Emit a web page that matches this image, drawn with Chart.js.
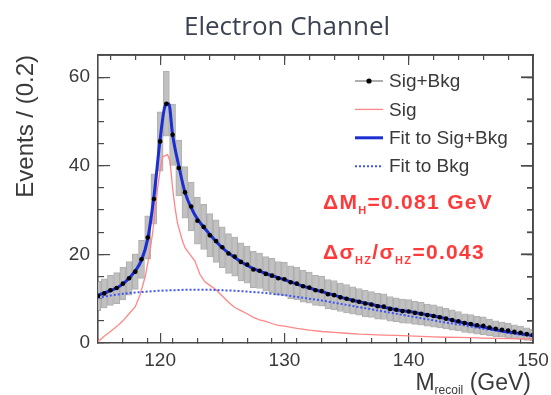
<!DOCTYPE html>
<html>
<head>
<meta charset="utf-8">
<script src="https://cdn.jsdelivr.net/npm/chart.js@4.4.1/dist/chart.umd.min.js"></script>
<style>
  html, body { margin: 0; padding: 0; background: #fff; }
</style>
</head>
<body>
<canvas id="chart" width="551" height="395"></canvas>
<script>
// measured Sig+Bkg events per 0.2 GeV bin, with their error bars
const massX = [
  115, 115.5, 116, 116.5, 117, 117.5, 118, 118.5, 119, 119.5,
  120, 120.5, 121, 121.5, 122, 122.5, 123, 123.5, 124, 124.5,
  125, 125.5, 126, 126.5, 127, 127.5, 128, 128.5, 129, 129.5,
  130, 130.5, 131, 131.5, 132, 132.5, 133, 133.5, 134, 134.5,
  135, 135.5, 136, 136.5, 137, 137.5, 138, 138.5, 139, 139.5,
  140, 140.5, 141, 141.5, 142, 142.5, 143, 143.5, 144, 144.5,
  145, 145.5, 146, 146.5, 147, 147.5, 148, 148.5, 149, 149.5, 150,
];
const sigBkgEvents = [
  10.6, 11.2, 11.9, 12.4, 13.4, 14.6, 16.1, 18.9, 23.8, 32.5,
  45.5, 54.0, 47.0, 39.5, 34.0, 30.8, 27.6, 26.2, 24.3, 23.0,
  21.6, 20.2, 19.5, 18.3, 17.7, 16.6, 16.3, 15.6, 15.2, 14.6,
  14.4, 13.7, 13.4, 12.8, 12.5, 11.9, 11.7, 11.0, 10.8, 10.3,
  10.0, 9.6, 9.3, 8.9, 8.7, 8.3, 8.2, 7.7, 7.5, 7.2,
  7.1, 6.8, 6.6, 6.3, 6.1, 5.8, 5.5, 5.2, 4.9, 4.5,
  4.3, 4.0, 3.9, 3.5, 3.2, 3.0, 2.8, 2.5, 2.3, 2.0, 1.8,
];
const sigBkgErrors = [
  3.3, 3.3, 3.4, 3.5, 3.7, 3.8, 4.0, 4.3, 4.9, 5.7,
  6.7, 7.3, 6.9, 6.3, 5.8, 5.5, 5.3, 5.1, 4.9, 4.8,
  4.6, 4.5, 4.4, 4.3, 4.2, 4.1, 4.0, 3.9, 3.9, 3.8,
  3.8, 3.7, 3.7, 3.6, 3.5, 3.4, 3.4, 3.3, 3.3, 3.2,
  3.2, 3.1, 3.0, 3.0, 2.9, 2.9, 2.9, 2.8, 2.7, 2.7,
  2.7, 2.6, 2.6, 2.5, 2.5, 2.4, 2.3, 2.3, 2.2, 2.1,
  2.1, 2.0, 2.0, 1.9, 1.8, 1.7, 1.7, 1.6, 1.5, 1.4, 1.3,
];

// signal only histogram
const sigX = [
  115, 115.5, 116, 116.5, 117, 117.5, 118, 118.4, 118.8, 119,
  119.2, 119.4, 119.6, 119.8, 120, 120.2, 120.4, 120.6, 120.8, 121,
  121.2, 121.4, 121.6, 121.8, 122, 122.4, 122.8, 123.2, 123.6, 124,
  124.5, 125, 125.5, 126, 126.5, 127, 127.5, 128, 128.5, 129,
  129.5, 130, 131, 132, 133, 134, 135, 136, 137, 138,
  139, 140, 141, 142, 143, 144, 145, 146, 147, 148, 149, 150,
];
const sigEvents = [
  0.3, 1.5, 2.6, 3.7, 5.0, 6.6, 8.2, 11, 15, 18,
  21, 25, 30, 35, 39, 42, 42.3, 42.5, 41, 35,
  30.5, 27, 25, 23, 21.5, 20, 18.5, 15.5, 13.8, 13,
  12, 10.6, 9.2, 8.0, 7.3, 6.6, 5.8, 5.2, 4.9, 4.4,
  4.0, 3.8, 3.3, 2.9, 2.6, 2.4, 2.2, 2.0, 1.9, 1.8,
  1.7, 1.6, 1.5, 1.4, 1.3, 1.25, 1.2, 1.1, 1.05, 1.0, 0.95, 0.9,
];

// fitted curves
const fitX = [
  115, 116, 117, 118, 118.5, 119, 119.5, 120, 120.4, 120.7,
  121, 121.5, 122, 122.5, 123, 124, 125, 126, 127, 128,
  129, 130, 131, 132, 133, 134, 135, 136, 137, 138,
  139, 140, 141, 142, 143, 144, 145, 146, 147, 148, 149, 150,
];
const fitSigBkg = [
  10.8, 11.8, 13.3, 16.3, 18.7, 23.5, 33, 46, 53.5, 54,
  47, 40, 34, 30.5, 28, 24.5, 21.5, 19.3, 17.5, 16.2,
  15.2, 14.3, 13.3, 12.4, 11.6, 10.8, 10.0, 9.3, 8.7, 8.1,
  7.5, 7.1, 6.6, 6.1, 5.5, 4.8, 4.2, 3.6, 3.0, 2.5, 2.1, 1.7,
];
const bkgX = [
  115, 116, 117, 118, 119, 120, 121, 122, 123, 124,
  125, 126, 127, 128, 129, 130, 131, 132, 133, 134,
  135, 136, 137, 138, 139, 140, 141, 142, 143, 144,
  145, 146, 147, 148, 149, 150,
];
const fitBkg = [
  10.2, 10.7, 11.1, 11.4, 11.6, 11.8, 11.9, 12.0, 12.0, 12.0,
  11.9, 11.8, 11.6, 11.4, 11.1, 10.8, 10.4, 10.0, 9.6, 9.1,
  8.6, 8.1, 7.6, 7.1, 6.6, 6.1, 5.6, 5.1, 4.6, 4.2,
  3.7, 3.2, 2.8, 2.3, 1.9, 1.5,
];

const xTickLabels = [120, 130, 140, 150];
const yTickLabels = [0, 20, 40, 60];

const BLUE = "#1b2ed2";
const BLUE_DOT = "#3f55f7";
const PINK = "rgb(255,135,135)";
const RED = "#ff3a3a";
const TEXT = "#3a3a3a";
const FRAME = "#4a4a4a";
const TICK_FONT = { family: "'Liberation Sans', Arial, sans-serif", size: 19 };

function pairs(xs, ys) {
  return xs.map((x, i) => ({ x: x, y: ys[i] }));
}

// a ROOT style axis: ticks pointing into the plot, optional frame line
function rootAxis(opts) {
  const horizontal = opts.position === "top" || opts.position === "bottom";
  return {
    type: "linear",
    position: opts.position,
    min: opts.min,
    max: opts.max,
    offset: false,
    weight: opts.weight || 0,
    grid: {
      display: true,
      drawOnChartArea: false,
      drawTicks: true,
      tickLength: -opts.tick,
      color: FRAME,
      lineWidth: 1.2,
    },
    border: { display: !!opts.border, color: FRAME, width: 1.6 },
    ticks: {
      display: !!opts.labels,
      stepSize: opts.step,
      includeBounds: false,
      autoSkip: false,
      maxRotation: 0,
      padding: opts.padding || 0,
      color: TEXT,
      font: TICK_FONT,
      callback: (v) => (opts.labels && opts.labels.includes(v) ? String(v) : ""),
    },
    afterFit: (scale) => {
      // keep the "150" label overhang from shrinking the frame
      if (horizontal) {
        scale.paddingLeft = 0;
        scale.paddingRight = 0;
        scale.height = opts.size;
      } else {
        scale.width = opts.size;
      }
    },
  };
}

// legend and labels drawn the ROOT way
const rootStyle = {
  id: "rootStyle",
  afterDraw(chart) {
    const ctx = chart.ctx;
    const a = chart.chartArea;
    const ys = chart.scales.y;
    ctx.save();

    // right edge of the frame with its inward ticks
    ctx.fillStyle = FRAME;
    ctx.fillRect(a.right - 0.8, a.top - 0.8, 1.6, a.bottom - a.top + 1.6);
    ctx.fillRect(a.left - 0.8, a.top - 0.8, a.right - a.left + 1.6, 1.6);
    ys.ticks.forEach((t) => {
      const v = t.value;
      if (v <= ys.min || v >= ys.max) return;
      const py = Math.round(ys.getPixelForValue(v));
      const len = v % 20 === 0 ? 12 : 6;
      ctx.fillRect(a.right - len, py - 0.6, len, 1.2);
    });

    // legend
    const ds = chart.data.datasets;
    const entries = [ds[1], ds[2], ds[4], ds[3]];
    const lx0 = 355;
    const lx1 = 383;
    let ly = 81;
    ctx.font = "19px 'Liberation Sans', Arial, sans-serif";
    ctx.textBaseline = "middle";
    ctx.textAlign = "left";
    entries.forEach((d) => {
      ctx.setLineDash(d.borderDash || []);
      ctx.strokeStyle = d.legendLine;
      ctx.lineWidth = d.legendWidth;
      ctx.beginPath();
      ctx.moveTo(lx0, ly);
      ctx.lineTo(lx1, ly);
      ctx.stroke();
      ctx.setLineDash([]);
      if (d.legendDot) {
        ctx.fillStyle = "#000";
        ctx.beginPath();
        ctx.arc((lx0 + lx1) / 2, ly, 2.6, 0, Math.PI * 2);
        ctx.fill();
      }
      ctx.fillStyle = TEXT;
      ctx.fillText(d.label, 389, ly + 1);
      ly += 28.4;
    });

    // resolution numbers
    ctx.fillStyle = RED;
    ctx.textBaseline = "alphabetic";
    ctx.letterSpacing = "1.3px";
    const big = "bold 21px 'Liberation Sans', Arial, sans-serif";
    const small = "bold 11px 'Liberation Sans', Arial, sans-serif";
    function run(parts, x, y) {
      parts.forEach((p) => {
        ctx.font = p[1] ? small : big;
        ctx.fillText(p[0], x, y + (p[1] ? 5 : 0));
        x += ctx.measureText(p[0]).width;
      });
    }
    run([["\u0394M", 0], ["H", 1], ["=0.081 GeV", 0]], 323, 209);
    run([["\u0394\u03c3", 0], ["HZ", 1], ["/\u03c3", 0], ["HZ", 1], ["=0.043", 0]], 323, 259);
    ctx.letterSpacing = "0px";

    // title
    ctx.fillStyle = "#3c4252";
    ctx.font = "26px 'Open Sans', sans-serif";
    ctx.textAlign = "center";
    ctx.fillText("Electron Channel", 287, 35);

    // x axis title, right aligned
    ctx.fillStyle = TEXT;
    ctx.textAlign = "left";
    const tbig = "23px 'Liberation Sans', Arial, sans-serif";
    const tsmall = "12px 'Liberation Sans', Arial, sans-serif";
    ctx.font = tbig;
    const wM = ctx.measureText("M").width;
    const wG = ctx.measureText(" (GeV)").width;
    ctx.font = tsmall;
    const wR = ctx.measureText("recoil").width;
    let x = a.right - 2 - (wM + wR + wG);
    ctx.font = tbig;
    ctx.fillText("M", x, 390);
    x += wM;
    ctx.font = tsmall;
    ctx.fillText("recoil", x, 394);
    x += wR;
    ctx.font = tbig;
    ctx.fillText(" (GeV)", x, 390);

    // y axis title, top aligned
    ctx.translate(33, a.top);
    ctx.rotate(-Math.PI / 2);
    ctx.textAlign = "right";
    ctx.font = "24px 'Liberation Sans', Arial, sans-serif";
    ctx.fillText("Events / (0.2)", 0, 0);
    ctx.restore();
  },
};

const chart = document.querySelector("#chart").getContext("2d");

new Chart(chart, {
  data: {
    datasets: [
      {
        type: "bar",
        label: "errors",
        data: massX.map((x, i) => ({
          x: x,
          y: [sigBkgEvents[i] - sigBkgErrors[i], sigBkgEvents[i] + sigBkgErrors[i]],
        })),
        backgroundColor: "rgba(190,190,190,0.95)",
        borderColor: "rgba(125,125,125,0.6)",
        borderWidth: 1,
        borderSkipped: false,
        barThickness: 6,
        order: 5,
      },
      {
        type: "line",
        label: "Sig+Bkg",
        data: pairs(massX, sigBkgEvents),
        showLine: false,
        pointRadius: 2.3,
        pointBackgroundColor: "#000",
        pointBorderWidth: 0,
        legendLine: "#777",
        legendWidth: 1.2,
        legendDot: true,
        order: 0,
      },
      {
        type: "line",
        label: "Sig",
        data: pairs(sigX, sigEvents),
        borderColor: PINK,
        borderWidth: 1.3,
        pointRadius: 0,
        tension: 0,
        legendLine: PINK,
        legendWidth: 1.3,
        order: 4,
      },
      {
        type: "line",
        label: "Fit to Bkg",
        data: pairs(bkgX, fitBkg),
        borderColor: BLUE_DOT,
        borderWidth: 2,
        borderDash: [2, 2],
        pointRadius: 0,
        cubicInterpolationMode: "monotone",
        legendLine: BLUE_DOT,
        legendWidth: 2,
        order: 3,
      },
      {
        type: "line",
        label: "Fit to Sig+Bkg",
        data: pairs(fitX, fitSigBkg),
        borderColor: BLUE,
        borderWidth: 3,
        pointRadius: 0,
        cubicInterpolationMode: "monotone",
        legendLine: BLUE,
        legendWidth: 3,
        order: 1,
      },
    ],
  },
  options: {
    responsive: false,
    animation: false,
    layout: { padding: { top: 55, right: 18, left: 0, bottom: 0 } },
    plugins: {
      legend: { display: false },
      title: { display: false },
      tooltip: { enabled: false },
    },
    scales: {
      // minor ticks sit right on the frame, major ones carry the labels
      x: rootAxis({ position: "bottom", min: 115, max: 150, step: 2, tick: 5, size: 0, border: true, weight: 0 }),
      xMajor: rootAxis({ position: "bottom", min: 115, max: 150, step: 10, tick: 10, size: 52, labels: xTickLabels, padding: 16, weight: 1 }),
      xTop: rootAxis({ position: "top", min: 115, max: 150, step: 2, tick: 5, size: 0, border: true, weight: 0 }),
      xTopMajor: rootAxis({ position: "top", min: 115, max: 150, step: 10, tick: 10, size: 0, weight: 1 }),
      y: rootAxis({ position: "left", min: 0, max: 65, step: 5, tick: 6, size: 0, border: true, weight: 0 }),
      yMajor: rootAxis({ position: "left", min: 0, max: 65, step: 20, tick: 12, size: 98, labels: yTickLabels, padding: 20, weight: 1 }),
      yRight: rootAxis({ position: "right", min: 0, max: 65, step: 5, tick: 6, size: 0, border: true, weight: 0 }),
      yRightMajor: rootAxis({ position: "right", min: 0, max: 65, step: 20, tick: 12, size: 0, weight: 1 }),
    },
  },
  plugins: [rootStyle],
});
</script>
</body>
</html>
